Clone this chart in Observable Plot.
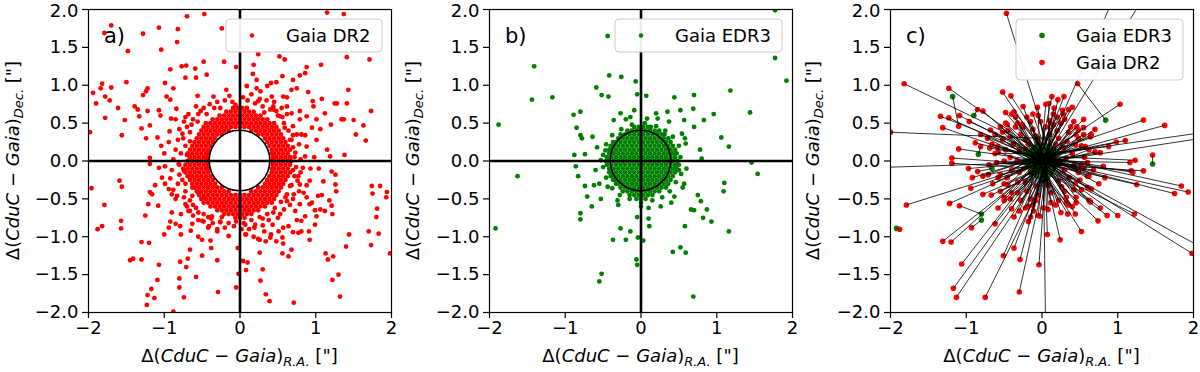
<!DOCTYPE html>
<html><head><meta charset="utf-8">
<script src="https://cdn.jsdelivr.net/npm/d3@7"></script>
<script src="https://cdn.jsdelivr.net/npm/@observablehq/plot@0.6"></script>
<style>
body{margin:0;background:#fff;}
#row{display:flex;width:1200px;height:372px;overflow:hidden;}
#row svg{flex:none;}
</style></head><body><div id="row"></div>
<script>
// ---------- axes / labels ----------
const domain = [-2, 2];
const xTicks = [-2, -1, 0, 1, 2];
const yTicks = [-2, -1.5, -1, -0.5, 0, 0.5, 1, 1.5, 2];
const circleRadius = 0.4;
const panelLabels = ["a)", "b)", "c)"];
const xSub = "R.A.";
const ySub = "Dec.";
const labelParts = ["Δ(", "CduC", " − ", "Gaia", ")"];
const labelUnit = " [\"]";
const seriesNames = ["Gaia DR2", "Gaia EDR3"];
const colDR2 = "#ff0000", colEDR3 = "#008000";

// ---------- panel a: Gaia DR2 residuals ----------
const aCoreRows = [
 [0.70,[-0.09,-0.03,0.03,0.09]],
 [0.65,[-0.18,-0.12,-0.06,0.00,0.06,0.12,0.18]],
 [0.60,[-0.27,-0.21,-0.15,-0.09,-0.03,0.03,0.09,0.15,0.21,0.27]],
 [0.55,[-0.36,-0.30,-0.24,-0.18,-0.12,-0.06,0.00,0.06,0.12,0.18,0.24,0.30,0.36]],
 [0.50,[-0.45,-0.39,-0.33,-0.27,-0.21,-0.15,-0.09,-0.03,0.03,0.09,0.15,0.21,0.27,0.33,0.39,0.45]],
 [0.45,[-0.48,-0.42,-0.36,-0.30,-0.24,-0.18,-0.12,-0.06,0.00,0.06,0.12,0.18,0.24,0.30,0.36,0.42,0.48]],
 [0.40,[-0.51,-0.45,-0.39,-0.33,-0.27,-0.21,-0.15,0.15,0.21,0.27,0.33,0.39,0.45,0.51]],
 [0.35,[-0.54,-0.48,-0.42,-0.36,-0.30,-0.24,0.24,0.30,0.36,0.42,0.48,0.54]],
 [0.30,[-0.57,-0.51,-0.45,-0.39,-0.33,0.33,0.39,0.45,0.51,0.57]],
 [0.25,[-0.60,-0.54,-0.48,-0.42,-0.36,0.36,0.42,0.48,0.54,0.60]],
 [0.20,[-0.63,-0.57,-0.51,-0.45,-0.39,0.39,0.45,0.51,0.57,0.63]],
 [0.15,[-0.66,-0.60,-0.54,-0.48,-0.42,0.42,0.48,0.54,0.60,0.66]],
 [0.10,[-0.69,-0.63,-0.57,-0.51,-0.45,-0.42,0.42,0.45,0.51,0.57,0.63]],
 [0.05,[-0.66,-0.60,-0.54,-0.48,-0.43,0.43,0.48,0.54,0.60,0.66]],
 [0.00,[-0.69,-0.63,-0.57,-0.51,-0.45,-0.43,0.43,0.45,0.51,0.57,0.63,0.67]],
 [-0.05,[-0.72,-0.66,-0.60,-0.54,-0.48,-0.43,0.43,0.48,0.54,0.60,0.66]],
 [-0.10,[-0.69,-0.63,-0.57,-0.51,-0.45,-0.42,0.42,0.45,0.51,0.57,0.63]],
 [-0.15,[-0.72,-0.66,-0.60,-0.54,-0.48,-0.42,0.42,0.48,0.54,0.60,0.66]],
 [-0.20,[-0.69,-0.63,-0.57,-0.51,-0.45,-0.39,0.39,0.45,0.51,0.57,0.63]],
 [-0.25,[-0.66,-0.60,-0.54,-0.48,-0.42,-0.36,0.36,0.42,0.48,0.54,0.60]],
 [-0.30,[-0.63,-0.57,-0.51,-0.45,-0.39,-0.33,0.33,0.39,0.45,0.51,0.57]],
 [-0.35,[-0.60,-0.54,-0.48,-0.42,-0.36,-0.30,-0.24,0.24,0.30,0.36,0.42,0.48,0.54]],
 [-0.40,[-0.57,-0.51,-0.45,-0.39,-0.33,-0.27,-0.21,-0.15,0.15,0.21,0.27,0.33,0.39,0.45,0.51]],
 [-0.45,[-0.54,-0.48,-0.42,-0.36,-0.30,-0.24,-0.18,-0.12,-0.06,0.00,0.06,0.12,0.18,0.24,0.30,0.36,0.42,0.48]],
 [-0.50,[-0.51,-0.45,-0.39,-0.33,-0.27,-0.21,-0.15,-0.09,-0.03,0.03,0.09,0.15,0.21,0.27,0.33,0.39,0.45]],
 [-0.55,[-0.48,-0.42,-0.36,-0.30,-0.24,-0.18,-0.12,-0.06,0.00,0.06,0.12,0.18,0.24,0.30,0.36,0.42]],
 [-0.60,[-0.39,-0.33,-0.27,-0.21,-0.15,-0.09,-0.03,0.03,0.09,0.15,0.21,0.27,0.33]],
 [-0.65,[-0.30,-0.24,-0.18,-0.12,-0.06,0.00,0.06,0.12,0.18,0.24]],
 [-0.70,[-0.21,-0.15,-0.09,-0.03,0.03,0.09,0.15]],
 [-0.75,[-0.06,0.00,0.06]]
];
const aScatter = [
 [-0.70,1.91],[-0.47,1.94],[-1.70,1.79],[-1.79,1.69],[-1.28,1.68],[-1.07,1.76],[-0.82,1.74],[-0.24,1.75],
 [-0.83,1.57],[-1.48,1.45],[-1.04,1.47],[-0.21,1.31],[-0.48,1.31],[-0.71,1.26],[-0.77,1.25],[-0.92,1.21],
 [-0.05,1.24],[-0.59,1.22],[-0.44,1.14],[-0.72,1.10],[-0.58,1.10],[-1.50,1.04],[-0.99,1.03],[-1.82,1.02],
 [-1.70,0.97],[-1.84,0.96],[-1.94,0.90],[-1.78,0.85],[-1.90,0.76],[-1.72,0.80],[-1.22,0.96],[-1.24,0.92],
 [-1.28,0.87],[-0.88,0.96],[-0.97,0.85],[-0.92,0.81],[-1.61,0.70],[-1.39,0.72],[-1.35,0.68],[-1.78,0.57],
 [-1.52,0.54],[-1.22,0.66],[-1.07,0.67],[-1.33,0.59],[-1.05,0.60],[-0.84,0.69],[-0.91,0.56],[-1.30,0.43],
 [-1.56,0.34],[-1.98,0.38],[-1.19,0.47],[-1.09,0.31],[-1.24,0.30],[-1.04,0.20],[-1.19,0.04],[-0.94,0.25],
 [-0.93,0.39],[-0.85,0.55],
 [1.15,1.96],[1.37,1.94],[0.24,1.41],[0.52,1.38],[0.59,1.34],[0.18,1.27],[0.88,1.24],[1.07,1.27],
 [1.41,1.37],[1.71,1.34],[0.17,1.15],[0.56,1.12],[0.79,1.13],[0.86,1.16],[0.22,1.07],[0.41,1.03],
 [0.48,1.04],[0.36,0.99],[0.70,1.07],[0.75,0.96],[0.90,0.91],[0.68,0.94],[1.43,0.94],[1.25,0.76],
 [1.28,0.76],[0.96,0.79],[1.08,0.82],[0.57,0.85],[0.62,0.72],[0.79,0.66],[0.97,0.72],[1.12,0.63],
 [1.41,0.76],[1.73,0.66],[1.34,0.55],[1.50,0.54],[1.37,0.55],[1.63,0.47],[1.01,0.55],[0.88,0.59],
 [0.79,0.55],[0.95,0.44],[1.06,0.42],[1.20,0.48],[1.53,0.35],[1.66,0.27],[0.81,0.35],[1.01,0.28],
 [1.15,0.15],[1.19,0.06],[1.38,0.08],[0.73,0.11],[0.88,0.19],[0.66,0.28],[0.59,0.44],[0.53,0.59],
 [0.68,0.63],[0.44,0.68],[0.42,0.85],[0.27,0.92],[0.09,0.99],[0.24,0.79],
 [-1.19,-0.04],[-1.07,-0.09],[-0.99,-0.07],[-0.81,-0.04],[-1.96,-0.36],[-1.59,-0.26],[-1.56,-0.34],[-1.03,-0.22],
 [-0.92,-0.23],[-1.12,-0.32],[-0.99,-0.30],[-0.94,-0.37],[-1.19,-0.41],[-1.16,-0.44],[-0.90,-0.44],[-0.83,-0.46],
 [-1.21,-0.57],[-1.08,-0.59],[-1.79,-0.58],[-0.72,-0.57],[-0.68,-0.66],[-0.90,-0.68],[-1.25,-0.72],[-1.57,-0.79],
 [-1.57,-0.89],[-1.82,-0.86],[-1.88,-0.90],[-0.92,-0.80],[-0.85,-0.83],[-0.94,-0.88],[-0.79,-0.86],[-0.63,-0.83],
 [-1.00,-0.97],[-0.78,-0.97],[-1.30,-1.07],[-1.20,-1.08],[-0.55,-1.00],[-0.50,-1.04],[-0.39,-1.05],[-0.38,-1.15],
 [-0.66,-1.17],[-0.50,-1.25],[-0.30,-1.31],[-1.45,-1.31],[-1.41,-1.29],[-1.30,-1.30],[-1.07,-1.37],[-0.79,-1.33],
 [-0.69,-1.29],[-0.71,-1.40],[-0.03,-1.15],[-0.02,-1.49],[-0.58,-1.53],[-1.09,-1.57],[-0.80,-1.55],[-1.17,-1.69],
 [-1.22,-1.77],[-1.13,-1.81],[-0.80,-1.67],[-0.74,-1.80],[-0.29,-1.73],[-0.05,-1.67],[-1.23,-1.90],[-0.88,-1.99],
 [-0.74,-0.13],[-0.68,-0.20],[-0.63,-0.35],[-0.55,-0.42],[-0.48,-0.48],[-0.63,-0.46],[-0.55,-0.68],[-0.50,-0.79],
 [-0.37,-0.73],[-0.30,-0.93],[-0.26,-0.81],[-0.41,-0.86],[-0.15,-0.99],
 [0.93,-0.10],[1.04,-0.10],[1.21,-0.14],[1.26,-0.18],[1.10,-0.27],[1.03,-0.46],[1.08,-0.45],[1.26,-0.31],
 [1.27,-0.40],[1.18,-0.52],[1.21,-0.59],[1.06,-0.64],[1.12,-0.66],[1.22,-0.70],[1.01,-0.73],[0.99,-0.84],
 [1.74,-0.33],[1.85,-0.33],[1.75,-0.43],[1.94,-0.41],[1.93,-0.48],[1.81,-0.63],[1.80,-0.74],[1.70,-0.93],
 [1.83,-0.96],[1.73,-1.11],[1.98,-1.22],[1.44,-0.97],[1.40,-1.13],[1.13,-1.22],[1.16,-1.30],[1.23,-1.26],
 [1.30,-1.50],[1.22,-1.57],[1.32,-1.79],[0.71,-1.87],[0.39,-1.85],[0.34,-1.76],[0.27,-1.58],[0.30,-1.43],
 [0.26,-1.21],[0.08,-1.44],[0.04,-1.32],[0.10,-1.34],[0.07,-0.97],[0.56,-1.22],[0.64,-1.26],[0.68,-1.17],
 [0.57,-1.09],[0.92,-1.04],[0.91,-0.93],[0.81,-0.93],[0.77,-0.95],[0.70,-0.94],[0.56,-1.01],[0.48,-1.06],
 [0.40,-1.01],[0.34,-1.06],[0.26,-1.04],[0.24,-1.03],[0.32,-0.93],[0.41,-0.97],[0.51,-0.93],[0.57,-0.88],
 [0.64,-0.86],[0.75,-0.78],[0.86,-0.73],[0.81,-0.79],[0.88,-0.48],[0.92,-0.57],[0.99,-0.65],[0.79,-0.57],
 [0.73,-0.66],[0.43,-0.84],[0.19,-0.88],[0.08,-0.97],[0.07,-0.84],[0.92,-0.26],[0.84,-0.42],[0.79,-0.31],
 [0.71,-0.44],[0.62,-0.53],[0.53,-0.70],[0.77,-0.20],[0.83,-0.09],[0.66,-0.33],
 [-0.70,0.45],[-0.75,0.30],[-0.72,0.20],[-0.78,0.10],[-0.62,0.55],[-0.55,0.62],[-0.48,0.70],[-0.40,0.75],
 [-0.30,0.78],[-0.20,0.80],[-0.10,0.78],[-0.66,0.38],[-0.80,0.42],[-0.58,0.72],[-0.35,0.85],[-0.68,0.62],
 [-0.85,0.15],[-0.74,0.52],
 [0.10,0.80],[0.20,0.76],[0.30,0.72],[0.40,0.68],[0.50,0.60],[0.58,0.50],[0.64,0.40],[0.68,0.28],
 [0.70,0.18],[0.72,0.05],[0.35,0.80],[0.15,0.88],[0.55,0.70],[0.75,0.35],[0.62,0.62],[0.45,0.78],
 [-0.75,-0.10],[-0.76,-0.25],[-0.72,-0.40],[-0.66,-0.52],[-0.58,-0.62],[-0.48,-0.70],[-0.38,-0.76],[-0.26,-0.80],
 [-0.15,-0.82],[-0.05,-0.80],[-0.82,-0.30],[-0.70,-0.60],[-0.55,-0.78],[-0.42,-0.88],[-0.85,-0.50],[-0.62,-0.72],
 [-0.30,-0.90],[-0.80,-0.05],
 [0.05,-0.82],[0.15,-0.78],[0.26,-0.74],[0.36,-0.70],[0.46,-0.62],[0.54,-0.54],[0.62,-0.44],[0.68,-0.32],
 [0.72,-0.20],[0.74,-0.08],[0.30,-0.85],[0.50,-0.75],[0.66,-0.58],[0.78,-0.40],[0.12,-0.90],[0.80,-0.15],
 [-0.72,0.58],[-0.64,0.48],[-0.82,0.28],[-0.88,0.02],[-0.80,-0.18],[-0.74,-0.48],[-0.66,-0.66],[-0.48,-0.80],
 [-0.36,-0.82],[-0.20,-0.88],[-0.08,-0.86],[0.02,-0.90],[0.20,-0.84],[0.38,-0.78],[0.58,-0.64],[0.70,-0.50],
 [0.76,-0.26],[0.80,0.02],[0.78,0.22],[0.70,0.46],[0.56,0.58],[0.44,0.72],[0.26,0.82],[0.04,0.84],
 [-0.14,0.86],[-0.26,0.70],[-0.44,0.62],[-0.56,0.52],[-0.66,0.26],[-0.70,0.08],[-0.72,-0.30],[-0.62,-0.58],
 [-0.42,-0.74],[-0.24,-0.74],[0.30,-0.76],[0.44,-0.68],[0.60,-0.48],[0.70,-0.12],[0.70,0.34],[0.48,0.66],
 [0.32,0.64],[-0.06,0.74],[-0.34,0.70],[-0.52,0.66],[-0.76,0.36],[-0.90,-0.12],[-0.88,-0.38],[-0.78,-0.70],
 [0.88,-0.32],[0.86,0.06],[0.86,0.34],[0.22,0.96],[-0.18,0.94],[-0.56,0.86],[0.62,0.84],[0.95,-0.55],
 [0.18,-1.00],[-0.65,-0.92],[-1.00,0.10],[0.98,0.05]
];

// ---------- panel b: Gaia EDR3 residuals ----------
const bCoreRows = [
 [0.45,[-0.09,-0.03,0.03,0.09,0.13]],
 [0.40,[-0.18,-0.12,-0.06,0.00,0.06,0.12,0.18,0.24]],
 [0.35,[-0.27,-0.21,-0.15,-0.09,-0.03,0.03,0.09,0.15,0.21,0.27,0.31]],
 [0.30,[-0.30,-0.24,-0.18,-0.12,-0.06,0.00,0.06,0.12,0.18,0.24,0.30,0.36]],
 [0.25,[-0.37,-0.33,-0.27,-0.21,-0.15,-0.09,-0.03,0.03,0.09,0.15,0.21,0.27,0.33,0.39]],
 [0.20,[-0.40,-0.36,-0.30,-0.24,-0.18,-0.12,-0.06,0.00,0.06,0.12,0.18,0.24,0.30,0.36,0.42]],
 [0.15,[-0.42,-0.39,-0.33,-0.27,-0.21,-0.15,-0.09,-0.03,0.03,0.09,0.15,0.21,0.27,0.33,0.39,0.45]],
 [0.10,[-0.42,-0.36,-0.30,-0.24,-0.18,-0.12,-0.06,0.00,0.06,0.12,0.18,0.24,0.30,0.36,0.42,0.47]],
 [0.05,[-0.45,-0.39,-0.33,-0.27,-0.21,-0.15,-0.09,-0.03,0.03,0.09,0.15,0.21,0.27,0.33,0.39,0.45]],
 [0.00,[-0.46,-0.42,-0.36,-0.30,-0.24,-0.18,-0.12,-0.06,0.00,0.06,0.12,0.18,0.24,0.30,0.36,0.42,0.48]],
 [-0.05,[-0.45,-0.39,-0.33,-0.27,-0.21,-0.15,-0.09,-0.03,0.03,0.09,0.15,0.21,0.27,0.33,0.39,0.45,0.50]],
 [-0.10,[-0.42,-0.36,-0.30,-0.24,-0.18,-0.12,-0.06,0.00,0.06,0.12,0.18,0.24,0.30,0.36,0.42,0.47]],
 [-0.15,[-0.42,-0.39,-0.33,-0.27,-0.21,-0.15,-0.09,-0.03,0.03,0.09,0.15,0.21,0.27,0.33,0.39,0.45]],
 [-0.20,[-0.40,-0.36,-0.30,-0.24,-0.18,-0.12,-0.06,0.00,0.06,0.12,0.18,0.24,0.30,0.36,0.42]],
 [-0.25,[-0.37,-0.33,-0.27,-0.21,-0.15,-0.09,-0.03,0.03,0.09,0.15,0.21,0.27,0.33,0.39]],
 [-0.30,[-0.33,-0.30,-0.24,-0.18,-0.12,-0.06,0.00,0.06,0.12,0.18,0.24,0.30,0.36]],
 [-0.35,[-0.27,-0.21,-0.15,-0.09,-0.03,0.03,0.09,0.15,0.21,0.27,0.33]],
 [-0.40,[-0.24,-0.18,-0.12,-0.06,0.00,0.06,0.12,0.18,0.24]],
 [-0.45,[-0.15,-0.09,-0.03,0.03,0.09,0.15]],
 [-0.50,[-0.06,0.00,0.06]]
];
const bScatter = [
 [-0.44,1.65],[1.77,1.99],[1.77,1.36],[1.92,1.06],[-1.41,1.25],[-1.44,0.81],[-1.17,0.84],[-1.88,0.48],
 [-1.63,-0.20],[-1.92,-0.89],[-0.42,1.13],[-0.26,1.11],[-0.07,1.05],[-0.59,0.97],[-0.52,0.87],[-0.43,0.85],
 [-0.05,0.88],[0.07,0.86],[0.44,0.84],[0.70,0.87],[0.69,0.69],[1.18,0.93],[1.44,0.64],[0.96,0.62],
 [0.83,0.54],[0.70,0.45],[1.06,0.31],[1.16,0.19],[0.78,0.15],[0.80,0.03],[1.46,-0.02],[1.54,-0.17],
 [1.10,-0.29],[1.09,-0.40],[0.75,-0.45],[0.79,-0.53],[0.87,-0.64],[0.82,-0.75],[0.93,-0.80],[1.16,-0.93],
 [0.66,-0.64],[0.70,-0.65],[0.58,-0.86],[0.42,-1.20],[0.52,-1.14],[0.59,-1.21],[0.69,-1.79],[0.03,-1.05],
 [-0.04,-1.01],[-0.27,-0.89],[-0.14,-0.93],[-0.05,-0.74],[0.10,-0.76],[0.11,-0.86],[-0.37,-1.04],[-0.20,-1.04],
 [-0.06,-1.30],[-0.05,-1.37],[-0.52,-1.49],[-0.55,-1.59],[-0.80,-0.69],[-0.80,-0.77],[-0.65,-0.60],[-0.86,-0.07],
 [-0.83,-0.20],[-0.74,-0.33],[-0.62,-0.32],[-0.71,-0.47],[-0.53,-0.50],[-0.89,0.61],[-0.80,0.65],[-0.85,0.44],
 [-0.80,0.34],[-0.64,0.32],[-0.88,0.08],[-0.74,0.09],[-0.78,0.30],[0.37,0.52],[0.52,0.67],[0.35,0.65],
 [0.20,0.63],[0.57,0.54],[0.54,0.36],[0.59,0.23],[0.53,-0.17],[0.57,-0.30],[0.44,-0.47],[0.26,-0.60],
 [0.00,-0.60],[-0.31,-0.52],[-0.44,-0.34],[-0.47,0.14],[-0.53,0.01],[-0.36,0.54],[-0.14,0.58],[0.08,0.56],
 [-0.27,0.63],[-0.09,0.67],
 [0.50,0.20],[0.52,0.05],[0.50,-0.12],[0.46,-0.28],[0.38,-0.40],[0.28,-0.48],[0.15,-0.52],[0.00,-0.55],
 [-0.15,-0.50],[-0.28,-0.45],[-0.38,-0.36],[-0.46,-0.22],[-0.50,-0.08],[-0.50,0.08],[-0.46,0.22],[-0.38,0.34],
 [-0.26,0.42],[-0.12,0.48],[0.05,0.50],[0.20,0.46],[0.32,0.40],[0.42,0.32],[0.55,-0.35],[-0.55,-0.30],
 [-0.58,0.18],[0.58,0.30],[0.22,0.56],[-0.20,0.55],[0.10,-0.62],[-0.30,-0.58],[0.40,-0.55],[0.60,-0.10],
 [-0.60,-0.12]
];

// ---------- panel c: DR2 position -> EDR3 position (x2, y2, x3, y3) ----------
const cPairs = [
 [-0.47,1.95,0.12,0.05],[-1.82,1.02,-0.06,0.17],[-1.23,0.96,-0.18,0.22],[-1.10,0.46,-1.18,0.85],
 [-1.34,0.59,-0.10,0.10],[-1.23,0.57,-0.05,0.02],[-1.09,0.60,-0.22,0.15],[-1.31,0.44,-0.15,0.04],
 [-0.85,0.68,-0.90,0.60],[-0.78,0.66,-0.08,0.05],[-2.00,0.38,-0.05,0.30],[-0.52,0.91,0.02,0.10],
 [-0.41,0.86,0.05,0.15],[-0.48,0.64,-0.05,0.12],[-0.37,0.65,0.00,0.20],[-0.96,0.52,-0.12,0.14],
 [-0.68,0.41,-0.08,0.08],[-0.81,0.35,-0.20,0.10],[-0.88,0.24,-0.14,0.06],[-1.10,0.16,0.00,0.00],
 [-1.19,0.04,-0.10,-0.04],[-1.19,-0.03,-0.05,-0.10],[-0.69,0.17,0.05,0.05],[-0.81,0.19,-0.84,0.09],
 [-0.59,0.19,0.02,0.02],[-0.48,0.50,-0.03,0.08],[-0.26,0.48,0.04,0.12],[-0.06,0.71,0.06,0.10],
 [0.09,0.76,0.08,0.02],
 [-0.97,-0.10,-0.10,-0.02],[-0.92,-0.22,-0.04,0.05],[-0.85,-0.14,-0.66,-0.10],[-0.71,-0.18,0.05,-0.02],
 [-0.94,-0.36,-0.10,-0.06],[-0.67,-0.45,-0.04,-0.15],[-0.78,-0.44,0.00,-0.10],[-1.79,-0.58,-0.10,-0.05],
 [-1.22,-0.56,-0.15,-0.08],[-1.09,-0.59,-0.80,-0.70],[-1.88,-0.90,-1.92,-0.89],[-0.93,-0.88,-0.80,-0.78],
 [-1.31,-1.06,-0.15,-0.15],[-1.20,-1.07,-0.12,-0.10],[-1.06,-1.36,-0.10,-0.12],[-0.62,-0.83,0.00,-0.05],
 [-0.51,-1.25,-0.02,-0.12],[-0.37,-1.15,0.00,-0.20],[-0.29,-1.30,0.02,-0.10],[-0.04,-1.37,0.05,-0.15],
 [-1.17,-1.68,-0.08,-0.18],[-1.13,-1.80,-0.05,-0.20],[-0.75,-1.80,0.02,-0.25],[-0.30,-1.73,0.03,-0.22],
 [-0.40,-0.63,-0.06,-0.08],[-0.37,-0.74,-0.02,-0.06],[-0.18,-0.80,0.04,-0.08],[-0.11,-0.66,0.00,-0.12],
 [-0.03,-0.73,0.06,-0.10],[0.07,-0.97,0.04,-0.05],[0.24,-1.04,0.02,-0.08],[0.05,-2.40,0.02,-0.10],
 [1.16,-0.02,0.10,0.00],[1.46,0.08,1.46,-0.04],[1.34,-0.13,0.08,-0.05],[1.20,-0.15,0.12,0.02],
 [1.25,-0.31,0.06,-0.04],[1.84,-0.33,0.10,0.05],[1.93,-0.41,0.05,0.00],[1.75,-0.43,0.12,-0.02],
 [0.65,-0.37,0.05,-0.02],[0.64,-0.54,0.02,-0.06],[0.77,-0.62,0.08,-0.08],[0.86,-0.72,0.04,-0.10],
 [1.00,-0.72,0.10,-0.06],[1.22,-0.70,0.06,-0.12],[0.74,-0.79,0.00,-0.08],[0.52,-0.93,0.03,-0.15],
 [1.98,-1.22,0.10,-0.04],[2.40,-1.30,0.05,-0.02],[0.44,-0.70,0.05,-0.05],[0.34,-0.70,-0.02,-0.10],
 [0.40,-0.60,0.08,-0.12],[0.83,-0.22,0.06,0.02],[0.81,-0.07,0.04,0.04],[0.62,-0.20,0.10,0.06],
 [0.48,-0.13,0.02,0.08],[1.23,0.01,0.08,0.06],[1.18,-0.13,0.02,-0.02],
 [0.47,1.02,0.84,0.54],[1.03,0.75,0.06,0.10],[1.34,0.54,0.10,0.12],[1.62,0.47,0.05,0.05],
 [0.29,0.85,0.00,0.10],[0.13,0.85,-0.02,0.12],[0.21,0.81,0.04,0.00],[0.40,0.71,0.02,0.05],
 [0.27,0.67,-0.04,0.06],[0.55,0.44,0.00,0.02],[0.48,0.41,0.06,0.00],[0.98,0.25,0.10,0.08],
 [1.10,0.27,0.02,0.04],[0.88,0.19,0.05,0.10],[0.77,0.11,0.00,0.00],[0.57,0.19,-0.04,0.02],
 [0.64,0.32,0.08,0.10],[2.50,0.43,0.05,0.08],[2.50,0.36,0.02,-0.02],[1.10,2.50,0.02,0.05],
 [1.55,2.50,0.08,0.10],[-2.60,-0.10,-0.05,-0.02],
 [0.30,0.55,0.05,0.10],[0.15,0.62,0.02,0.15],[-0.05,0.60,-0.03,0.12],[-0.20,0.58,-0.08,0.18],
 [-0.32,0.50,-0.10,0.05],[-0.45,0.40,-0.12,0.10],[-0.52,0.28,-0.15,0.02],[-0.58,0.12,-0.20,-0.02],
 [-0.60,-0.02,-0.18,-0.05],[-0.55,-0.18,-0.12,-0.08],[-0.50,-0.30,-0.08,-0.12],[-0.40,-0.42,-0.10,-0.15],
 [-0.28,-0.52,-0.05,-0.20],[-0.12,-0.58,0.00,-0.15],[0.02,-0.62,0.03,-0.18],[0.18,-0.58,0.05,-0.12],
 [0.32,-0.48,0.10,-0.10],[0.42,-0.38,0.12,-0.05],[0.50,-0.25,0.15,-0.02],[0.55,-0.10,0.10,0.02],
 [0.56,0.05,0.08,0.05],[0.52,0.20,0.12,0.08],[0.45,0.35,0.06,0.12],[0.38,0.45,0.02,0.05],
 [0.20,0.40,0.00,0.02],[0.05,0.45,-0.05,0.05],[-0.12,0.42,-0.02,-0.02],[-0.28,0.35,0.02,0.00],
 [-0.38,0.22,-0.05,-0.08],[-0.42,0.05,0.03,-0.05],[-0.40,-0.12,-0.02,0.08],[-0.32,-0.28,0.05,0.03],
 [-0.20,-0.40,-0.06,0.02],[-0.05,-0.45,0.08,-0.06],[0.12,-0.42,0.00,-0.08],[0.26,-0.34,-0.04,-0.04],
 [0.36,-0.22,0.06,0.08],[0.42,-0.06,-0.08,0.10],[0.40,0.10,-0.10,-0.10],[0.33,0.26,0.10,-0.04],
 [0.05,0.75,0.00,0.20],[-0.25,0.72,-0.05,0.22],[0.35,0.68,0.10,0.20],[0.55,0.55,0.15,0.15],
 [0.65,0.35,0.20,0.10],[0.70,0.12,0.18,0.00],[0.68,-0.12,0.20,-0.05],[0.60,-0.35,0.15,-0.10],
 [0.45,-0.55,0.12,-0.15],[0.25,-0.68,0.08,-0.20],[-0.05,-0.72,0.00,-0.22],[-0.30,-0.66,-0.08,-0.18],
 [-0.50,-0.52,-0.15,-0.12],[-0.65,-0.30,-0.20,-0.08],[-0.70,-0.05,-0.22,0.00],[-0.66,0.22,-0.18,0.08],
 [-0.55,0.45,-0.15,0.12],[-0.40,0.62,-0.10,0.18],
 [0.25,0.50,0.00,-0.05],[-0.15,0.52,0.05,0.00],[-0.48,0.15,0.00,0.05],[-0.46,-0.22,0.05,0.10],
 [-0.15,-0.50,0.10,0.05],[0.22,-0.52,-0.05,0.05],[0.48,-0.15,-0.10,0.02],[0.48,0.30,-0.05,-0.10],
 [0.10,0.53,0.10,-0.10],[-0.35,0.45,0.12,-0.02],[-0.55,-0.40,0.02,-0.12],[0.35,-0.58,-0.12,-0.05],
 [0.60,-0.02,-0.15,0.05],[0.28,0.62,-0.15,-0.02],[-0.22,-0.62,0.14,0.10],[-0.62,0.35,0.10,-0.15],
 [0.22,0.30,0.02,-0.03],[0.10,0.35,-0.06,0.04],[-0.08,0.33,0.04,-0.06],[-0.22,0.28,0.08,0.02],
 [-0.30,0.15,-0.02,0.10],[-0.33,0.00,0.06,0.06],[-0.30,-0.15,-0.04,-0.02],[-0.22,-0.28,0.02,0.12],
 [-0.08,-0.33,-0.08,0.04],[0.08,-0.32,0.00,0.10],[0.22,-0.26,-0.06,-0.06],[0.30,-0.12,-0.10,0.04],
 [0.32,0.04,0.02,-0.12],[0.28,0.18,-0.08,-0.04],
 [0.15,0.48,0.06,-0.02],[-0.02,0.52,0.10,0.04],[-0.25,0.45,-0.02,0.02],[-0.42,0.32,0.04,-0.10],
 [-0.50,0.00,0.08,-0.02],[-0.45,-0.32,-0.06,0.06],[-0.32,-0.42,0.06,0.00],[-0.08,-0.52,-0.02,0.06],
 [0.12,-0.55,-0.04,0.08],[0.30,-0.40,0.04,0.10],[0.44,-0.30,-0.06,0.00],[0.52,-0.05,0.00,-0.04],
 [0.44,0.22,0.10,-0.02],[0.35,0.38,-0.02,-0.08],
 [0.20,0.58,-0.10,0.06],[-0.12,0.62,0.12,-0.06],[-0.35,0.58,0.00,-0.04],[-0.52,0.38,-0.04,0.00],
 [-0.62,0.10,0.06,0.10],[-0.58,-0.22,-0.12,0.04],[-0.42,-0.50,0.10,-0.02],[-0.18,-0.60,-0.10,0.00],
 [0.08,-0.64,0.06,0.04],[0.32,-0.55,-0.08,0.02],[0.52,-0.38,0.02,0.06],[0.60,-0.20,-0.06,0.10],
 [0.62,0.15,0.04,-0.08],[0.55,0.35,-0.10,-0.06],[0.42,0.52,0.06,-0.12],
 [0.18,0.22,-0.05,0.00],[-0.18,0.22,0.05,-0.04],[-0.24,-0.10,0.00,0.06],[0.24,-0.04,-0.03,0.03],
 [0.05,-0.24,0.03,0.08],[-0.05,0.25,0.00,-0.08],
 [0.46,0.45,0.14,0.06],[-0.46,0.48,-0.12,0.02],[-0.50,-0.48,-0.10,-0.04],[0.45,-0.48,0.10,-0.02],
 [0.70,0.42,0.12,0.02],[-0.72,0.30,-0.08,-0.04],[-0.58,-0.62,-0.02,-0.10],[0.62,-0.52,0.06,0.00],
 [0.16,0.70,0.02,0.14],[-0.15,-0.74,0.02,-0.16],[0.75,-0.30,0.14,0.02],[-0.78,-0.20,-0.10,0.04]
];

// ---------- build tables from the arrays ----------
const fromRows = rows => rows.flatMap(([y, xs]) => xs.map(x => ({x, y})));
const fromPairs = list => list.map(([x, y]) => ({x, y}));
const aData = fromRows(aCoreRows).concat(fromPairs(aScatter));
const bData = fromRows(bCoreRows).concat(fromPairs(bScatter));
const cDR2 = cPairs.map(([x2, y2]) => ({x: x2, y: y2}));
const cEDR3 = cPairs.map(([, , x3, y3]) => ({x: x3, y: y3}));
const cLinks = cPairs.map(([x2, y2, x3, y3]) => ({x1: x2, y1: y2, x2: x3, y2: y3}));

// ---------- drawing ----------
const FONT = "DejaVu Sans";
const row = document.getElementById("row");

function panel({ml, mr, marks, zero, circle, label, legend}) {
  const W = 400, H = 372, mt = 9, mb = 60;
  const chart = Plot.plot({
    width: W, height: H, marginLeft: ml, marginRight: mr, marginTop: mt, marginBottom: mb,
    x: {domain, label: null},
    y: {domain, label: null},
    style: {fontFamily: FONT, fontSize: "18px", color: "black", background: "white", overflow: "hidden"},
    marks: [
      ...marks,
      zero ? Plot.ruleX([0], {stroke: "black", strokeWidth: 2.6}) : null,
      zero ? Plot.ruleY([0], {stroke: "black", strokeWidth: 2.6}) : null,
      Plot.frame({stroke: "black", strokeWidth: 1.2}),
      Plot.axisX({ticks: xTicks, tickFormat: "d", tickSize: 6, tickPadding: 3, label: null, fontSize: 18, strokeWidth: 1.2}),
      Plot.axisY({ticks: yTicks, tickFormat: ".1f", tickSize: 6, tickPadding: 4, label: null, fontSize: 18, strokeWidth: 1.2})
    ]
  });
  const svg = d3.select(chart);
  const sx = chart.scale("x"), sy = chart.scale("y");
  // keep the topmost y tick label inside the picture
  svg.selectAll("text").filter(function () { return this.textContent === "2.0"; })
    .each(function () {
      const t = this.getAttribute("transform") || "";
      this.setAttribute("transform", (t + " translate(0,2)").trim());
    });
  if (circle) {
    svg.append("circle")
      .attr("cx", sx.apply(0)).attr("cy", sy.apply(0))
      .attr("r", sx.apply(circleRadius) - sx.apply(0))
      .attr("fill", "none").attr("stroke", "black").attr("stroke-width", 1.6);
  }
  // panel letter
  svg.append("text").attr("x", ml + 16).attr("y", mt + 34).attr("text-anchor", "start")
    .attr("font-family", FONT).attr("font-size", 21).attr("fill", "black").text(label);
  // legend
  const lg = svg.append("g");
  lg.append("rect").attr("x", legend.x).attr("y", 19).attr("width", legend.w).attr("height", legend.h)
    .attr("rx", 4).attr("fill", "white").attr("fill-opacity", 0.92).attr("stroke", "#cccccc").attr("stroke-width", 1);
  legend.items.forEach((it, i) => {
    const cy = 35.5 + i * 27;
    lg.append("circle").attr("cx", legend.x + 26).attr("cy", cy).attr("r", it.r).attr("fill", it.color);
    lg.append("text").attr("x", legend.x + 60).attr("y", cy + 6.5).attr("text-anchor", "start")
      .attr("font-family", FONT).attr("font-size", 18).attr("fill", "black").text(it.name);
  });
  // axis titles
  const plotW = W - ml - mr;
  const addLabel = (t, sub) => {
    labelParts.forEach((p, i) => {
      t.append("tspan").attr("font-style", i % 2 === 1 ? "italic" : "normal").text(p);
    });
    t.append("tspan").attr("font-style", "italic").attr("font-size", 13).attr("dy", 4).text(sub);
    t.append("tspan").attr("dy", -4).text(labelUnit);
  };
  const tx = svg.append("text").attr("x", ml + plotW / 2).attr("y", 362)
    .attr("text-anchor", "middle").attr("font-family", FONT).attr("font-size", 18).attr("fill", "black");
  addLabel(tx, xSub);
  const ty = svg.append("text").attr("transform", `translate(19,${mt + 151.5}) rotate(-90)`)
    .attr("text-anchor", "middle").attr("font-family", FONT).attr("font-size", 18).attr("fill", "black");
  addLabel(ty, ySub);
  row.appendChild(chart);
}

panel({
  ml: 88, mr: 9, zero: true, circle: true, label: panelLabels[0],
  marks: [Plot.dot(aData, {x: "x", y: "y", r: 2.4, fill: colDR2, stroke: "none", clip: true})],
  legend: {x: 226, w: 156, h: 33, items: [{name: seriesNames[0], color: colDR2, r: 2.2}]}
});
panel({
  ml: 89, mr: 8, zero: true, circle: true, label: panelLabels[1],
  marks: [Plot.dot(bData, {x: "x", y: "y", r: 2.4, fill: colEDR3, stroke: "none", clip: true})],
  legend: {x: 215, w: 167, h: 33, items: [{name: seriesNames[1], color: colEDR3, r: 2.2}]}
});
panel({
  ml: 90, mr: 7, zero: false, circle: false, label: panelLabels[2],
  marks: [
    Plot.dot(cEDR3, {x: "x", y: "y", r: 2.8, fill: colEDR3, stroke: "none", clip: true}),
    Plot.dot(cDR2, {x: "x", y: "y", r: 2.8, fill: colDR2, stroke: "none", clip: true}),
    Plot.link(cLinks, {x1: "x1", y1: "y1", x2: "x2", y2: "y2", stroke: "black", strokeWidth: 0.8, clip: true})
  ],
  legend: {x: 216, w: 167, h: 61, items: [
    {name: seriesNames[1], color: colEDR3, r: 2.8},
    {name: seriesNames[0], color: colDR2, r: 2.8}
  ]}
});
</script></body></html>
